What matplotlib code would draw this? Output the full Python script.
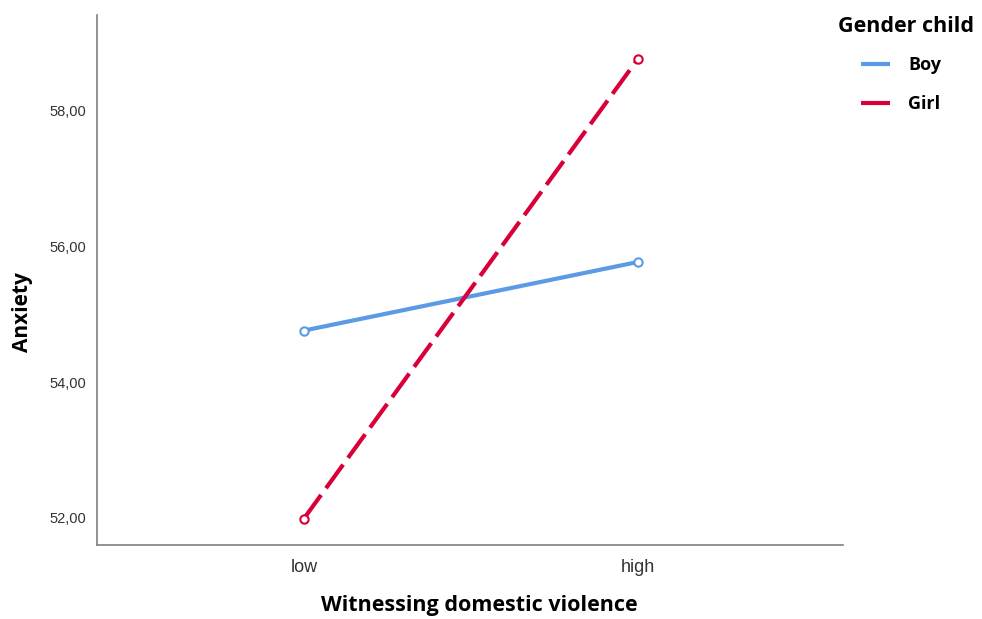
import numpy as np
import matplotlib.pyplot as plt

categories = ["low", "high"]
boy = [54.76, 55.77]
girl = [51.99, 58.76]
yticks = [52, 54, 56, 58]

blue = "#5b9be6"
red = "#d9003a"

fig = plt.figure(figsize=(9.82, 6.19), dpi=100)
ax = fig.add_axes([97 / 982, 1 - 545 / 619, (843 - 97) / 982, (545 - 15) / 619])

x = np.arange(len(categories))
ax.plot(x, boy, color=blue, lw=3, marker="o", ms=6, mfc="white", mec=blue, mew=1.5,
        solid_capstyle="butt", label="Boy")
ax.plot(x, girl, color=red, lw=3, ls=(0, (7, 2)), marker="o", ms=6, mfc="white", mec=red,
        mew=1.5, label="Girl")

ax.set_xlim(-0.62, 1.615)
ax.set_ylim(51.6, 59.41)
ax.set_xticks(x)
ax.set_xticklabels(categories, fontsize=13, family="Liberation Sans", color="#333333")
ax.set_yticks(yticks)
ax.set_yticklabels([f"{v:.2f}".replace(".", ",") for v in yticks], fontsize=10.5,
                   family="Liberation Sans", color="#333333")
ax.tick_params(length=0, pad=8)
ax.tick_params(axis="x", pad=10)

for s in ["top", "right"]:
    ax.spines[s].set_visible(False)
for s in ["left", "bottom"]:
    ax.spines[s].set_color("#7f7f7f")
    ax.spines[s].set_linewidth(1.2)

ax.set_xlabel("Witnessing domestic violence", fontsize=15.5, fontweight="bold",
              family="Open Sans")
ax.xaxis.set_label_coords(0.513, -0.095)
ax.set_ylabel("Anxiety", fontsize=15, fontweight="bold", family="Open Sans")
ax.yaxis.set_label_coords(-0.086, 0.44)

fig.text(838 / 982, 1 - 26 / 619, "Gender child", fontsize=15.5, fontweight="bold",
         family="Open Sans", ha="left", va="center")
leg = ax.legend(loc="upper left", bbox_to_anchor=(845 / 982, 1 - 40 / 619),
                bbox_transform=fig.transFigure, frameon=False, handlelength=1.6,
                handletextpad=1.0, labelspacing=1.15,
                prop={"family": "Open Sans", "weight": "bold", "size": 13})
for h in leg.legend_handles:
    h.set_marker("")

fig.savefig("out.png", dpi=100)
